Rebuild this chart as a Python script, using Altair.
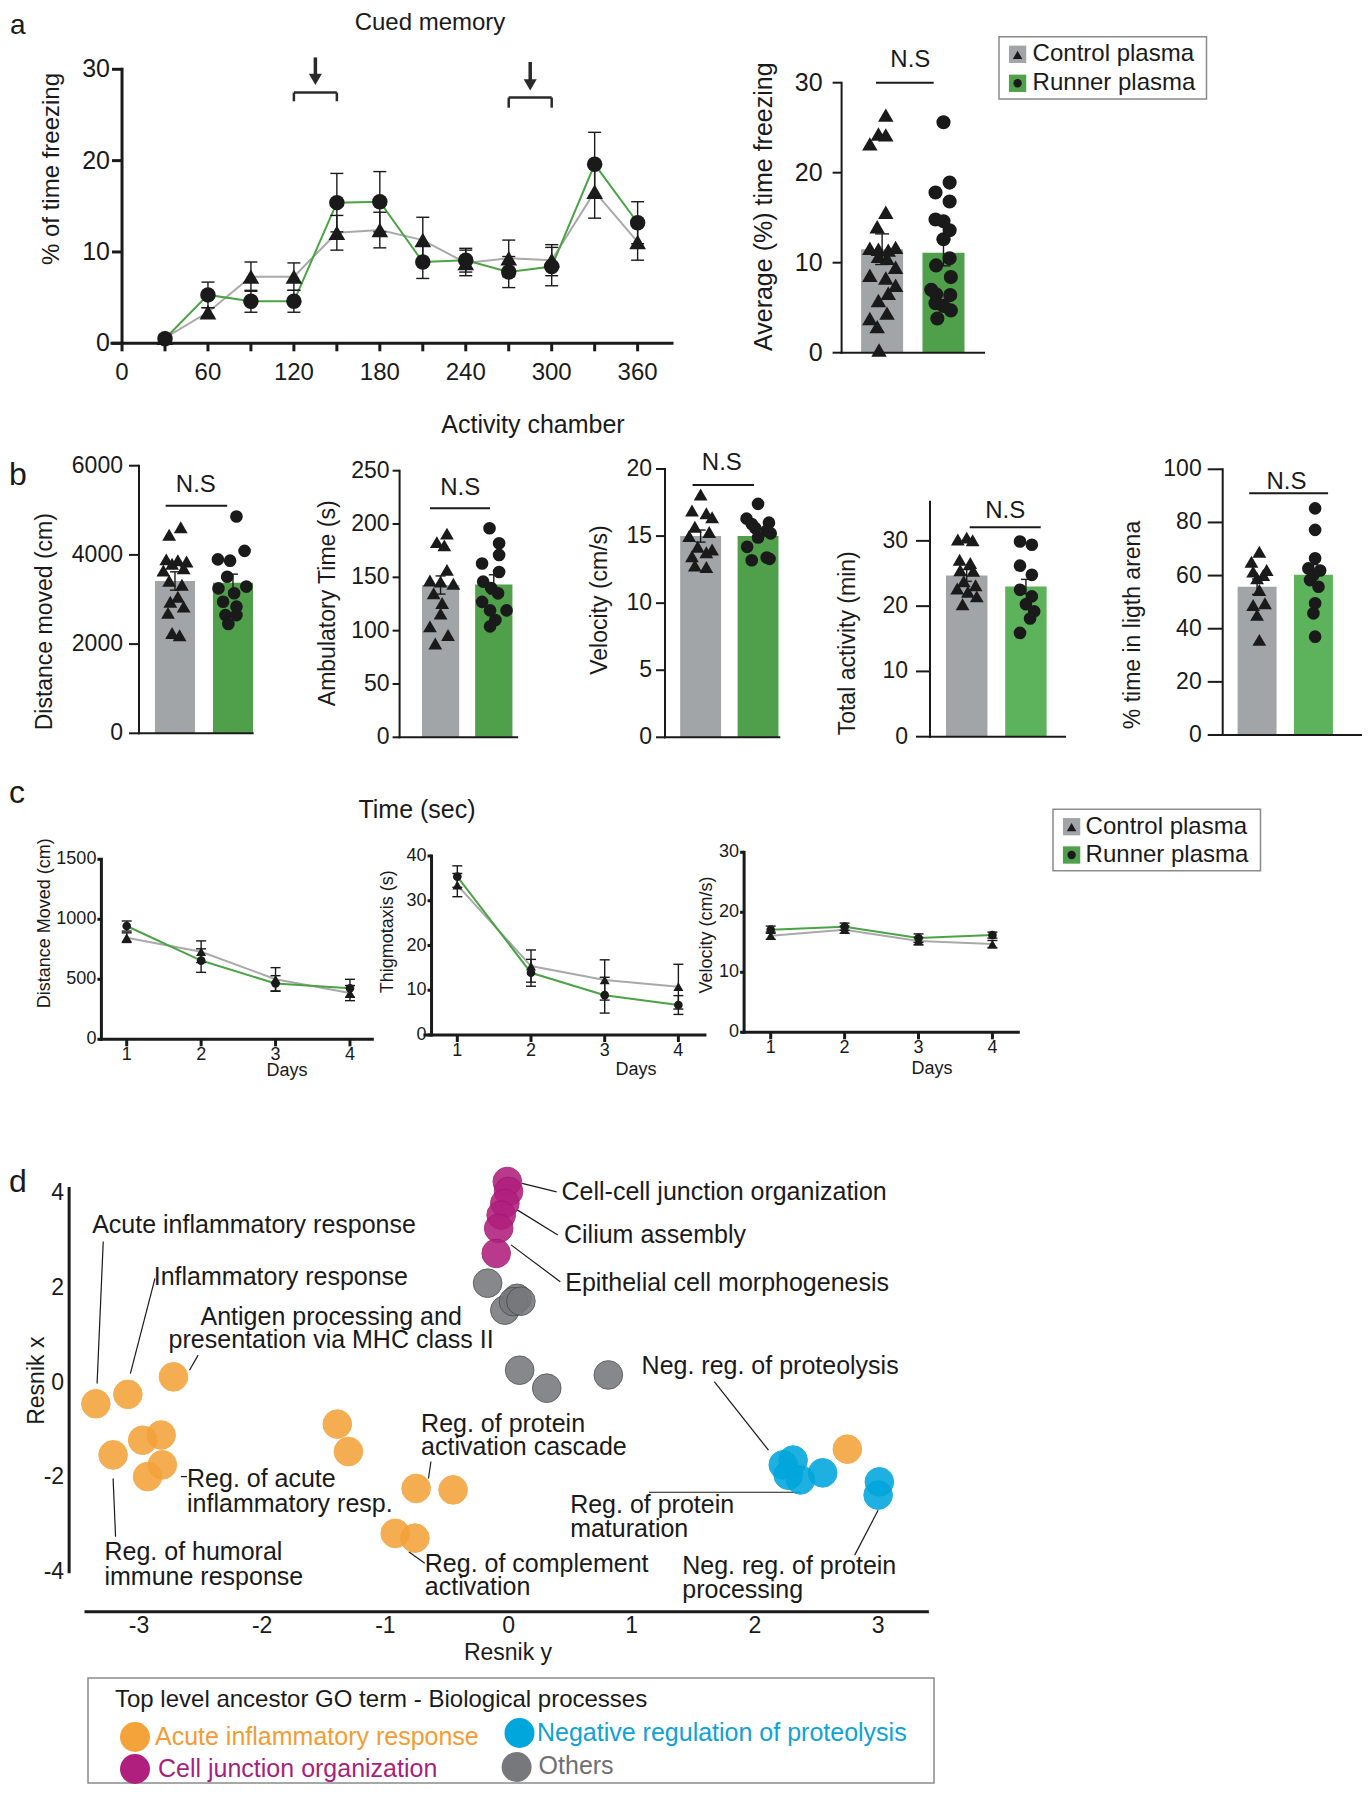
import altair as alt
import pandas as pd

W, H, M = 1354, 1784, 8
FONT = "Liberation Sans, Arial, Helvetica, sans-serif"
INK = "#1a1a1a"
GRAY_BAR = "#a1a5a8"
GREEN_BAR = "#4f9f4b"
GREEN_BAR_L = "#5db35b"
GRAY_LINE = "#a9a9a9"
GREEN_LINE = "#4aa345"
GROUPS = ["Control plasma", "Runner plasma"]

# ---------------- panel a : cued memory time course ----------------
A_TIME = [30, 60, 90, 120, 150, 180, 210, 240, 270, 300, 330, 360]
A_CTRL = [0.6, 3.4, 7.3, 7.3, 12.1, 12.4, 11.3, 8.8, 9.3, 9.1, 16.6, 11.1]
A_CTRL_SEM = [0.3, 0.5, 1.6, 1.5, 1.9, 1.95, 2.5, 1.4, 2.0, 1.7, 2.9, 2.0]
A_RUN = [0.5, 5.3, 4.6, 4.6, 15.4, 15.5, 8.9, 9.1, 7.8, 8.4, 19.6, 13.2]
A_RUN_SEM = [0.3, 1.4, 1.2, 1.2, 3.2, 3.3, 1.8, 1.3, 1.7, 2.1, 3.5, 2.3]
A_XTICKS = [0, 30, 60, 90, 120, 150, 180, 210, 240, 270, 300, 330, 360]
A_XLABELS = ["0", "", "60", "", "120", "", "180", "", "240", "", "300", "", "360"]
A_YTICKS = [0, 10, 20, 30]
A_TONE_START = [120, 270]
A_TONE_END = [150, 300]

# ---------------- panel a : average freezing ----------------
AB_CTRL = [26.4, 24.3, 24.2, 23.2, 15.6, 14.0, 11.6, 11.5, 11.4, 11.7, 10.7, 10.5, 9.5, 8.6, 8.3, 7.5, 6.6, 5.8, 4.4, 3.8, 2.9, 0.3]
AB_CTRL_J = [0.06, -0.06, 0.06, -0.2, 0.06, -0.08, -0.2, -0.06, 0.1, 0.22, -0.06, 0.08, 0.22, -0.2, 0.06, 0.22, 0.1, -0.06, 0.08, -0.2, -0.08, -0.05]
AB_RUN = [25.6, 18.9, 17.8, 16.8, 14.8, 14.6, 13.6, 12.6, 10.5, 9.7, 8.4, 7.0, 6.5, 6.4, 5.5, 5.2, 4.7, 3.8]
AB_RUN_J = [0.0, 0.1, -0.13, 0.1, -0.13, 0.0, 0.1, 0.0, 0.1, -0.12, 0.12, -0.2, -0.12, 0.11, -0.13, 0.0, 0.12, -0.1]
AB_MEAN = [11.5, 11.1]
AB_SEM = [1.7, 1.45]

# ---------------- panel b : activity chamber ----------------
B1_CTRL = [4620, 4450, 3900, 3880, 3850, 3800, 3700, 3650, 3420, 3330, 3060, 2950, 2840, 2700, 2250, 2200]
B1_CTRL_J = [0.1, -0.1, -0.15, 0.05, 0.2, -0.05, 0.15, -0.2, -0.1, 0.12, 0.05, -0.08, 0.15, -0.12, -0.05, 0.08]
B1_RUN = [4860, 4090, 3900, 3870, 3510, 3290, 3250, 3140, 2950, 2840, 2650, 2650, 2450]
B1_RUN_J = [0.06, 0.2, -0.26, -0.05, -0.1, 0.23, -0.25, 0.02, -0.17, 0.06, -0.13, 0.06, -0.08]
B1_MEAN = [3415, 3378]
B1_SEM = [205, 190]
B1_TICKS = [0, 2000, 4000, 6000]

B2_CTRL = [191, 183, 180, 157, 147, 146, 144, 135, 126, 116, 104, 96, 88]
B2_CTRL_J = [0.12, -0.07, 0.07, 0.12, -0.2, 0.0, 0.24, -0.13, 0.03, 0.0, -0.2, 0.14, -0.1]
B2_RUN = [196, 182, 171, 163, 155, 146, 140, 135, 127, 119, 119, 110, 104]
B2_RUN_J = [-0.08, 0.1, 0.1, -0.22, 0.1, -0.2, -0.05, 0.08, -0.22, 0.24, -0.07, 0.03, -0.07]
B2_MEAN = [142.8, 143.4]
B2_SEM = [8.5, 9.0]
B2_TICKS = [0, 50, 100, 150, 200, 250]

B3_CTRL = [18.1, 16.9, 16.7, 16.4, 15.7, 15.3, 15.0, 14.2, 14.0, 13.8, 13.5, 12.8, 12.7]
B3_CTRL_J = [0.0, -0.15, 0.1, 0.2, -0.1, 0.15, -0.2, -0.05, 0.2, 0.1, -0.15, -0.1, 0.1]
B3_RUN = [17.4, 16.3, 16.0, 15.9, 15.6, 15.4, 15.2, 14.9, 14.2, 13.4, 13.3, 13.2]
B3_RUN_J = [0.0, -0.2, 0.19, -0.11, -0.05, 0.15, 0.22, 0.0, -0.19, 0.15, 0.2, -0.11]
B3_MEAN = [15.0, 15.0]
B3_SEM = [0.45, 0.4]
B3_TICKS = [0, 5, 10, 15, 20]

B4_CTRL = [30.2, 30.5, 30.1, 27.1, 26.6, 25.5, 25.4, 23.8, 23.2, 22.7, 22.2, 21.5, 20.3]
B4_CTRL_J = [-0.15, 0.0, 0.1, -0.12, 0.06, -0.11, 0.11, -0.05, 0.15, -0.16, 0.02, 0.17, -0.07]
B4_RUN = [29.9, 29.4, 26.2, 24.8, 22.5, 21.5, 20.3, 19.2, 18.1, 15.9]
B4_RUN_J = [-0.1, 0.1, -0.1, 0.1, -0.1, 0.1, 0.0, 0.14, 0.07, -0.1]
B4_MEAN = [24.7, 23.0]
B4_SEM = [0.9, 1.1]
B4_TICKS = [0, 10, 20, 30]

B5_CTRL = [69.0, 65.2, 62.1, 61.5, 60.2, 59.0, 54.6, 49.6, 48.9, 45.2, 35.8]
B5_CTRL_J = [0.04, -0.1, 0.17, -0.07, 0.11, 0.0, 0.04, 0.14, -0.07, 0.0, 0.04]
B5_RUN = [85.3, 77.2, 66.5, 62.7, 61.9, 60.2, 58.3, 55.8, 49.6, 45.8, 37.0]
B5_RUN_J = [0.03, 0.03, 0.03, -0.09, 0.12, 0.0, -0.06, 0.09, 0.03, 0.0, 0.03]
B5_MEAN = [55.8, 60.3]
B5_SEM = [2.9, 3.8]
B5_TICKS = [0, 20, 40, 60, 80, 100]

# ---------------- panel c : open field over days ----------------
C_DAYS = [1, 2, 3, 4]
C1_CTRL = [847, 730, 500, 385]
C1_CTRL_SEM = [40, 90, 97, 63]
C1_RUN = [944, 656, 465, 425]
C1_RUN_SEM = [42, 98, 65, 75]
C1_TICKS = [0, 500, 1000, 1500]
C2_CTRL = [33.5, 15.4, 12.3, 10.8]
C2_CTRL_SEM = [2.6, 3.6, 4.5, 5.0]
C2_RUN = [35.4, 13.9, 8.9, 6.7]
C2_RUN_SEM = [2.4, 3.0, 4.0, 2.1]
C2_TICKS = [0, 10, 20, 30, 40]
C3_CTRL = [16.1, 17.1, 15.2, 14.7]
C3_CTRL_SEM = [0.6, 0.6, 0.6, 0.6]
C3_RUN = [17.1, 17.6, 15.7, 16.2]
C3_RUN_SEM = [0.6, 0.6, 0.7, 0.5]
C3_TICKS = [0, 10, 20, 30]

# ---------------- panel d : GO term semantic map ----------------
D_CATS = ["Acute inflammatory response", "Negative regulation of proteolysis",
          "Cell junction organization", "Others"]
D_COLORS = ["#f4a23a", "#00a6dc", "#b01f7e", "#77787c"]
D_EDGES = ["#f4a23a", "#00a6dc", "#a01a72", "#4d4e52"]
D_ORANGE_X = [-3.35, -3.09, -2.72, -3.21, -2.97, -2.82, -2.93, -2.81, -1.39, -1.30, -0.75, -0.45, -0.92, -0.76, 2.75]
D_ORANGE_Y = [-0.45, -0.25, 0.12, -1.53, -1.22, -1.11, -1.99, -1.74, -0.88, -1.46, -2.24, -2.27, -3.19, -3.29, -1.41]
D_BLUE_X = [2.23, 2.31, 2.37, 2.55, 2.27, 3.01, 3.00]
D_BLUE_Y = [-1.74, -1.64, -2.06, -1.91, -1.96, -2.10, -2.38]
D_MAG_X = [-0.01, 0.0, -0.03, -0.06, -0.08, -0.10]
D_MAG_Y = [4.25, 4.04, 3.79, 3.54, 3.26, 2.73]
D_GRAY_X = [-0.17, -0.03, 0.07, 0.04, 0.10, 0.09, 0.31, 0.81]
D_GRAY_Y = [2.10, 1.53, 1.78, 1.71, 1.72, 0.26, -0.12, 0.16]
D_XTICKS = [-3, -2, -1, 0, 1, 2, 3]
D_XLABELS = ["-3", "-2", "-1", "0", "1", "2", "3"]
D_YTICKS = [-4, -2, 0, 2, 4]
D_YLABELS = ["-4", "-2", "0", "2", "4"]
D_LEADERS = [(-3.29, 2.98, -3.34, -0.02), (-2.87, 2.20, -3.07, 0.19), (-2.52, 0.58, -2.59, 0.26),
             (-2.66, -1.99, -2.61, -1.99), (-3.19, -3.26, -3.21, -2.03), (-0.63, -1.67, -0.65, -2.03),
             (-0.68, -3.82, -0.81, -3.58), (1.14, -2.32, 2.37, -2.32), (1.67, 0.02, 2.11, -1.43),
             (2.81, -3.65, 3.00, -2.70), (0.11, 4.21, 0.39, 4.03), (0.07, 3.65, 0.40, 3.12),
             (0.02, 2.91, 0.42, 2.13)]
D_LABELS = [("Acute inflammatory response", -3.38, 3.33), ("Inflammatory response", -2.88, 2.24),
            ("Reg. of acute", -2.61, -2.03), ("inflammatory resp.", -2.61, -2.56),
            ("Reg. of humoral", -3.28, -3.58), ("immune response", -3.28, -4.11),
            ("Reg. of protein", -0.71, -0.87), ("activation cascade", -0.71, -1.36),
            ("Reg. of complement", -0.68, -3.83), ("activation", -0.68, -4.32),
            ("Reg. of protein", 0.50, -2.59), ("maturation", 0.50, -3.09),
            ("Neg. reg. of proteolysis", 1.08, 0.35), ("Neg. reg. of protein", 1.41, -3.89),
            ("processing", 1.41, -4.39), ("Cell-cell junction organization", 0.43, 4.03),
            ("Cilium assembly", 0.45, 3.12), ("Epithelial cell morphogenesis", 0.46, 2.10)]
D_LABELS_C = [("Antigen processing and", -1.44, 1.39), ("presentation via MHC class II", -1.44, 0.90)]


def P(v):
    return v - M


def qs(d0, d1, r0, r1):
    return alt.Scale(domain=[d0, d1], range=[P(r0), P(r1)], nice=False, zero=False)


def enc(xsc, ysc, xf, yf):
    return dict(x=alt.X(xf, scale=xsc, axis=None), y=alt.Y(yf, scale=ysc, axis=None))


def y_axis(xsc, ysc, at, values, labels, lo, hi, tick, pad, fs, w):
    dom = pd.DataFrame({"x": [at], "y0": [lo], "y1": [hi]})
    tk = pd.DataFrame({"x": [at] * len(values), "v": values, "lab": labels})
    out = [alt.Chart(dom).mark_rule(color=INK, strokeWidth=w, strokeCap="square").encode(
        y2="y1:Q", **enc(xsc, ysc, "x:Q", "y0:Q"))]
    if tick > 0:
        out.append(alt.Chart(tk).mark_tick(orient="horizontal", size=tick, thickness=w, color=INK,
                                           opacity=1, xOffset=-tick / 2).encode(**enc(xsc, ysc, "x:Q", "v:Q")))
    out.append(alt.Chart(tk).mark_text(align="right", baseline="middle", dx=-(tick + pad), font=FONT,
                                       fontSize=fs, color=INK).encode(text="lab:N", **enc(xsc, ysc, "x:Q", "v:Q")))
    return out


def x_axis(xsc, ysc, at, values, labels, lo, hi, tick, pad, fs, w):
    dom = pd.DataFrame({"y": [at], "x0": [lo], "x1": [hi]})
    out = [alt.Chart(dom).mark_rule(color=INK, strokeWidth=w, strokeCap="square").encode(
        x2="x1:Q", **enc(xsc, ysc, "x0:Q", "y:Q"))]
    if values:
        tk = pd.DataFrame({"y": [at] * len(values), "v": values, "lab": labels})
        if tick > 0:
            out.append(alt.Chart(tk).mark_tick(orient="vertical", size=tick, thickness=w, color=INK,
                                               opacity=1, yOffset=tick / 2).encode(**enc(xsc, ysc, "v:Q", "y:Q")))
        out.append(alt.Chart(tk).mark_text(align="center", baseline="top", dy=tick + pad, font=FONT,
                                           fontSize=fs, color=INK).encode(text="lab:N", **enc(xsc, ysc, "v:Q", "y:Q")))
    return out


def line_panel(t, ctrl, csem, run, rsem, xsc, ysc, tri, circ, cap, lw):
    n = len(t)
    df = pd.DataFrame({"t": list(t) + list(t), "v": list(ctrl) + list(run),
                       "s": list(csem) + list(rsem), "g": [GROUPS[0]] * n + [GROUPS[1]] * n})
    base = alt.Chart(df).transform_calculate(lo="datum.v - datum.s", hi="datum.v + datum.s")
    cb = base.transform_filter(alt.datum.g == GROUPS[0])
    rb = base.transform_filter(alt.datum.g == GROUPS[1])
    return [
        cb.mark_line(color=GRAY_LINE, strokeWidth=lw).encode(**enc(xsc, ysc, "t:Q", "v:Q")),
        rb.mark_line(color=GREEN_LINE, strokeWidth=lw).encode(**enc(xsc, ysc, "t:Q", "v:Q")),
        base.mark_rule(color=INK, strokeWidth=1.4).encode(y2="hi:Q", **enc(xsc, ysc, "t:Q", "lo:Q")),
        base.mark_tick(orient="horizontal", size=cap, thickness=1.4, color=INK, opacity=1).encode(
            **enc(xsc, ysc, "t:Q", "lo:Q")),
        base.mark_tick(orient="horizontal", size=cap, thickness=1.4, color=INK, opacity=1).encode(
            **enc(xsc, ysc, "t:Q", "hi:Q")),
        rb.mark_point(shape="circle", filled=True, size=circ, color=INK, opacity=1).encode(
            **enc(xsc, ysc, "t:Q", "v:Q")),
        cb.mark_point(shape="triangle-up", filled=True, size=tri, color=INK, opacity=1).encode(
            **enc(xsc, ysc, "t:Q", "v:Q")),
    ]


def bar_panel(cv, cj, rv, rj, mean, sem, xsc, ysc, colors, tri, circ, cap, hw, ns):
    bars = pd.DataFrame({"pos": [0, 1], "m": mean, "s": sem})
    bb = alt.Chart(bars).transform_calculate(l=f"datum.pos - {hw}", r=f"datum.pos + {hw}", z="0",
                                             lo="datum.m - datum.s", hi="datum.m + datum.s")
    pts = pd.DataFrame({"pos": [0] * len(cv) + [1] * len(rv), "v": list(cv) + list(rv),
                        "j": list(cj) + list(rj)})
    pb = alt.Chart(pts).transform_calculate(xp="datum.pos + datum.j")
    tx, ty, lx0, lx1, ly = ns
    nsdf = pd.DataFrame({"x": [tx], "y": [ty], "x0": [lx0], "x1": [lx1], "ly": [ly]})
    return [
        bb.transform_filter("datum.pos == 0").mark_bar(color=colors[0]).encode(
            x2="r:Q", y2="z:Q", **enc(xsc, ysc, "l:Q", "m:Q")),
        bb.transform_filter("datum.pos == 1").mark_bar(color=colors[1]).encode(
            x2="r:Q", y2="z:Q", **enc(xsc, ysc, "l:Q", "m:Q")),
        pb.transform_filter("datum.pos == 0").mark_point(shape="triangle-up", filled=True, size=tri,
                                                          color=INK, opacity=1).encode(
            **enc(xsc, ysc, "xp:Q", "v:Q")),
        pb.transform_filter("datum.pos == 1").mark_point(shape="circle", filled=True, size=circ,
                                                          color=INK, opacity=1).encode(
            **enc(xsc, ysc, "xp:Q", "v:Q")),
        bb.mark_rule(color=INK, strokeWidth=1.4).encode(y2="hi:Q", **enc(xsc, ysc, "pos:Q", "lo:Q")),
        bb.mark_tick(orient="horizontal", size=cap, thickness=1.4, color=INK, opacity=1).encode(
            **enc(xsc, ysc, "pos:Q", "lo:Q")),
        bb.mark_tick(orient="horizontal", size=cap, thickness=1.4, color=INK, opacity=1).encode(
            **enc(xsc, ysc, "pos:Q", "hi:Q")),
        alt.Chart(nsdf).mark_text(text="N.S", font=FONT, fontSize=24, color=INK, baseline="middle").encode(
            **enc(xsc, ysc, "x:Q", "y:Q")),
        alt.Chart(nsdf).mark_rule(color=INK, strokeWidth=2).encode(x2="x1:Q", **enc(xsc, ysc, "x0:Q", "ly:Q")),
    ]


def ptext(rows, align="center", baseline="middle", color=INK):
    df = pd.DataFrame(rows, columns=["t", "x", "y", "fs", "ang"])
    df["x"] = df["x"] - M
    df["y"] = df["y"] - M
    return alt.Chart(df).mark_text(align=align, baseline=baseline, font=FONT, color=color).encode(
        x=alt.X("x:Q", scale=None, axis=None), y=alt.Y("y:Q", scale=None, axis=None),
        text="t:N", size=alt.Size("fs:Q", scale=None, legend=None),
        angle=alt.Angle("ang:Q", scale=None, legend=None))


def pmark(rows, mark, **kw):
    df = pd.DataFrame(rows, columns=["x", "y"])
    df["x"] = df["x"] - M
    df["y"] = df["y"] - M
    return getattr(alt.Chart(df), mark)(**kw).encode(
        x=alt.X("x:Q", scale=None, axis=None), y=alt.Y("y:Q", scale=None, axis=None))


layers = []

# ---------- a: line ----------
axs = qs(-7, 384, 112, 672)
ays = qs(0, 30, 343.3, 69.3)
a_line = line_panel(A_TIME, A_CTRL, A_CTRL_SEM, A_RUN, A_RUN_SEM, axs, ays,
                    tri=280, circ=240, cap=13, lw=2)
a_line += y_axis(axs, ays, 0, A_YTICKS, [str(v) for v in A_YTICKS], 0, 30, 10, 2, 25, 3)
a_line += x_axis(axs, ays, 0, A_XTICKS, A_XLABELS, -7, 384, 8, 10, 24, 3)
tone = pd.DataFrame({"s": A_TONE_START, "e": A_TONE_END, "top": [27.45, 26.9], "leg": [26.5, 25.8],
                     "arrow_top": [31.3, 30.8], "head": [28.9, 28.3]})
tb = alt.Chart(tone).transform_calculate(mid="(datum.s + datum.e) / 2", shaft_end="datum.head + 0.3")
a_line += [
    tb.mark_rule(color="#2a2a2a", strokeWidth=2.5).encode(x2="e:Q", **enc(axs, ays, "s:Q", "top:Q")),
    tb.mark_rule(color="#2a2a2a", strokeWidth=2.5).encode(y2="leg:Q", **enc(axs, ays, "s:Q", "top:Q")),
    tb.mark_rule(color="#2a2a2a", strokeWidth=2.5).encode(y2="leg:Q", **enc(axs, ays, "e:Q", "top:Q")),
    tb.mark_rule(color="#2a2a2a", strokeWidth=3.5).encode(y2="shaft_end:Q", **enc(axs, ays, "mid:Q", "arrow_top:Q")),
    tb.mark_point(shape="triangle-down", filled=True, size=170, color="#2a2a2a", opacity=1).encode(
        **enc(axs, ays, "mid:Q", "head:Q")),
]
layers.append(alt.layer(*a_line))

# ---------- a: bar ----------
abx = qs(-0.66, 1.66, 841.6, 984)
aby = qs(0, 30, 352.7, 82.7)
ab = bar_panel(AB_CTRL, AB_CTRL_J, AB_RUN, AB_RUN_J, AB_MEAN, AB_SEM, abx, aby, [GRAY_BAR, GREEN_BAR],
               tri=240, circ=200, cap=14, hw=0.342, ns=(0.46, 32.5, -0.1, 0.84, 30.0))
ab += y_axis(abx, aby, -0.66, A_YTICKS, [str(v) for v in A_YTICKS], 0, 30, 9, 10, 25, 2)
ab += x_axis(abx, aby, 0, [], [], -0.66, 1.66, 0, 0, 10, 2)
layers.append(alt.layer(*ab))

# ---------- b panels ----------
B_SPECS = [
    (B1_CTRL, B1_CTRL_J, B1_RUN, B1_RUN_J, B1_MEAN, B1_SEM, (-0.62, 1.34, 139, 252.7),
     (0, 6000, 733.3, 465.7), B1_TICKS, 10, 6, [GRAY_BAR, GREEN_BAR],
     (0.36, 5567, -0.16, 0.9, 5103), 0.345),
    (B2_CTRL, B2_CTRL_J, B2_RUN, B2_RUN_J, B2_MEAN, B2_SEM, (-0.77, 1.44, 399.6, 517.2),
     (0, 250, 737.3, 470.7), B2_TICKS, 7, 3, [GRAY_BAR, GREEN_BAR],
     (0.37, 233.8, -0.2, 0.93, 214.7), 0.35),
    (B3_CTRL, B3_CTRL_J, B3_RUN, B3_RUN_J, B3_MEAN, B3_SEM, (-0.62, 1.37, 665, 779.3),
     (0, 20, 737.3, 469), B3_TICKS, 9, 4, [GRAY_BAR, GREEN_BAR],
     (0.37, 20.45, -0.14, 0.93, 18.8), 0.356),
    (B4_CTRL, B4_CTRL_J, B4_RUN, B4_RUN_J, B4_MEAN, B4_SEM, (-0.62, 1.66, 930, 1065),
     (0, 36, 736.7, 501.7), B4_TICKS, 14, 8, [GRAY_BAR, GREEN_BAR_L],
     (0.65, 34.5, 0.05, 1.25, 32.1), 0.35),
    (B5_CTRL, B5_CTRL_J, B5_RUN, B5_RUN_J, B5_MEAN, B5_SEM, (-0.61, 1.94, 1222.7, 1366.4),
     (0, 100, 735, 469.3), B5_TICKS, 15, 6, [GRAY_BAR, GREEN_BAR_L],
     (0.52, 95.3, -0.14, 1.26, 91.0), 0.346),
]
for (cv, cj, rv, rj, mn, sm, xr, yr, yt, tk, pad, cols, ns, hw) in B_SPECS:
    bx, by = qs(*xr), qs(*yr)
    bl = bar_panel(cv, cj, rv, rj, mn, sm, bx, by, cols, tri=190, circ=160, cap=10, hw=hw, ns=ns)
    bl += y_axis(bx, by, xr[0], yt, [str(v) for v in yt], yr[0], yr[1], tk, pad, 23, 2)
    bl += x_axis(bx, by, 0, [], [], xr[0], xr[1], 0, 0, 10, 2)
    layers.append(alt.layer(*bl))

# ---------- c panels ----------
C_SPECS = [
    (C1_CTRL, C1_CTRL_SEM, C1_RUN, C1_RUN_SEM, (0.66, 4.30, 101.4, 372.3), (0, 1500, 1039.3, 859.3), C1_TICKS),
    (C2_CTRL, C2_CTRL_SEM, C2_RUN, C2_RUN_SEM, (0.56, 4.36, 424.9, 704.9), (0, 40, 1035, 856), C2_TICKS),
    (C3_CTRL, C3_CTRL_SEM, C3_RUN, C3_RUN_SEM, (0.64, 4.35, 744.1, 1018.3), (0, 30, 1032.3, 852.3), C3_TICKS),
]
C_YAXIS_AT = [0.66, 0.65, 0.64]
for (cc, cs, rc, rs, xr, yr, yt), yat in zip(C_SPECS, C_YAXIS_AT):
    cx, cy = qs(*xr), qs(*yr)
    cl = line_panel(C_DAYS, cc, cs, rc, rs, cx, cy, tri=100, circ=75, cap=10, lw=2)
    cl += y_axis(cx, cy, yat, yt, [str(v) for v in yt], yr[0], yr[1], 4, 1, 18, 3)
    cl += x_axis(cx, cy, 0, C_DAYS, [str(v) for v in C_DAYS], xr[0], xr[1], 7, 0, 18, 3)
    layers.append(alt.layer(*cl))

# ---------- d scatter ----------
DXS = qs(-3.43, 3.40, 86, 927.4)
DYS = qs(-4, 4.1, 1571.7, 1188.6)
pts_rows = []
for cat, xs, ys in ((D_CATS[0], D_ORANGE_X, D_ORANGE_Y), (D_CATS[1], D_BLUE_X, D_BLUE_Y),
                    (D_CATS[2], D_MAG_X, D_MAG_Y), (D_CATS[3], D_GRAY_X, D_GRAY_Y)):
    for x, y in zip(xs, ys):
        pts_rows.append({"x": x, "y": y, "cat": cat})
dpts = pd.DataFrame(pts_rows)
seg = pd.DataFrame(D_LEADERS, columns=["x", "y", "x2", "y2"])
lab = pd.DataFrame(D_LABELS, columns=["t", "x", "y"])
labc = pd.DataFrame(D_LABELS_C, columns=["t", "x", "y"])
dl = [
    alt.Chart(seg).mark_rule(color=INK, strokeWidth=1.2).encode(x2="x2:Q", y2="y2:Q", **enc(DXS, DYS, "x:Q", "y:Q")),
    alt.Chart(dpts).mark_circle(size=820, opacity=0.88, strokeWidth=1).encode(
        color=alt.Color("cat:N", scale=alt.Scale(domain=D_CATS, range=D_COLORS), legend=None),
        stroke=alt.Stroke("cat:N", scale=alt.Scale(domain=D_CATS, range=D_EDGES), legend=None),
        **enc(DXS, DYS, "x:Q", "y:Q")),
    alt.Chart(lab).mark_text(align="left", baseline="middle", font=FONT, fontSize=25, color=INK).encode(
        text="t:N", **enc(DXS, DYS, "x:Q", "y:Q")),
    alt.Chart(labc).mark_text(align="center", baseline="middle", font=FONT, fontSize=25, color=INK).encode(
        text="t:N", **enc(DXS, DYS, "x:Q", "y:Q")),
]
dl += y_axis(DXS, DYS, -3.567, D_YTICKS, D_YLABELS, -4, 4.1, 0, 5, 23, 3)
dl += x_axis(DXS, DYS, -4.846, D_XTICKS, D_XLABELS, -3.43, 3.40, 0, 3, 23, 3)
layers.append(alt.layer(*dl))

# ---------- legends ----------
boxes = pd.DataFrame({"x": [999, 1053, 88], "x2": [1206.5, 1260.5, 934],
                      "y": [36.7, 809.3, 1678], "y2": [99, 870.7, 1783]})
for c in boxes.columns:
    boxes[c] = boxes[c] - M
layers.append(alt.Chart(boxes).mark_rect(fill="white", stroke="#8a8a8a", strokeWidth=1.5).encode(
    x=alt.X("x:Q", scale=None, axis=None), x2="x2:Q", y=alt.Y("y:Q", scale=None, axis=None), y2="y2:Q"))
layers.append(pmark([(1017.6, 54.3), (1071.6, 826.7)], "mark_square", size=300, color=GRAY_BAR, opacity=1))
layers.append(pmark([(1017.6, 83.3), (1071.6, 855)], "mark_square", size=300, color=GREEN_BAR, opacity=1))
layers.append(pmark([(1017.6, 54.8), (1071.6, 827.2)], "mark_point", shape="triangle-up", filled=True,
                    size=90, color=INK, opacity=1))
layers.append(pmark([(1017.6, 83.3), (1071.6, 855)], "mark_point", shape="circle", filled=True,
                    size=70, color=INK, opacity=1))
layers.append(ptext([(GROUPS[0], 1032.6, 54.3, 24, 0), (GROUPS[1], 1032.6, 83.3, 24, 0),
                     (GROUPS[0], 1085.6, 826.7, 24, 0), (GROUPS[1], 1085.6, 855, 24, 0)], align="left"))
layers.append(ptext([("Top level ancestor GO term - Biological processes", 115, 1700, 24, 0)], align="left"))
for (cx_, cy_, tx, ty, name, col) in ((135, 1737, 155, 1737, D_CATS[0], "#f39c33"),
                                      (519.5, 1733, 537, 1733, D_CATS[1], "#0ea2d6"),
                                      (135, 1769, 158, 1769, D_CATS[2], "#a91f7c"),
                                      (516.6, 1767, 538.6, 1766, D_CATS[3], "#707072")):
    layers.append(pmark([(cx_, cy_)], "mark_circle", size=900, color=D_COLORS[D_CATS.index(name)], opacity=1))
    layers.append(ptext([(name, tx, ty, 25, 0)], align="left", color=col))

# ---------- titles ----------
layers.append(ptext([
    ("Cued memory", 430, 23, 24, 0),
    ("Activity chamber", 533, 425, 25, 0),
    ("Time (sec)", 417, 810, 25, 0),
    ("Resnik y", 508, 1653, 23, 0),
    ("Days", 287, 1071, 18, 0), ("Days", 636, 1070, 18, 0), ("Days", 932, 1069, 18, 0),
    ("% of time freezing", 51.6, 169, 24, 270),
    ("Average (%) time  freezing", 764, 206.7, 25, 270),
    ("Distance moved (cm)", 45, 621.7, 23, 270),
    ("Ambulatory Time (s)", 328, 603.3, 23, 270),
    ("Velocity (cm/s)", 600.4, 600, 23, 270),
    ("Total activity (min)", 848, 643.3, 23, 270),
    ("% time in ligth arena", 1133, 625, 23, 270),
    ("Distance Moved (cm)", 45, 923.3, 18, 270),
    ("Thigmotaxis (s)", 388, 931.7, 18, 270),
    ("Velocity (cm/s)", 706.5, 935, 18, 270),
    ("Resnik x", 37, 1380.7, 23, 270),
]))
layers.append(ptext([("a", 10, 12, 28, 0)], align="left", baseline="top"))
layers.append(ptext([("b", 9, 485, 32, 0), ("c", 9, 803, 32, 0),
                     ("d", 9, 1192, 32, 0)], align="left", baseline="alphabetic"))

chart = alt.layer(*layers).resolve_scale(
    x="independent", y="independent", color="independent", stroke="independent"
).properties(
    width=W, height=H, padding=0, background="white",
    autosize=alt.AutoSizeParams(type="none"),
).configure_view(strokeWidth=0)

chart.save("out.html", embed_options={"renderer": "svg", "actions": False})
